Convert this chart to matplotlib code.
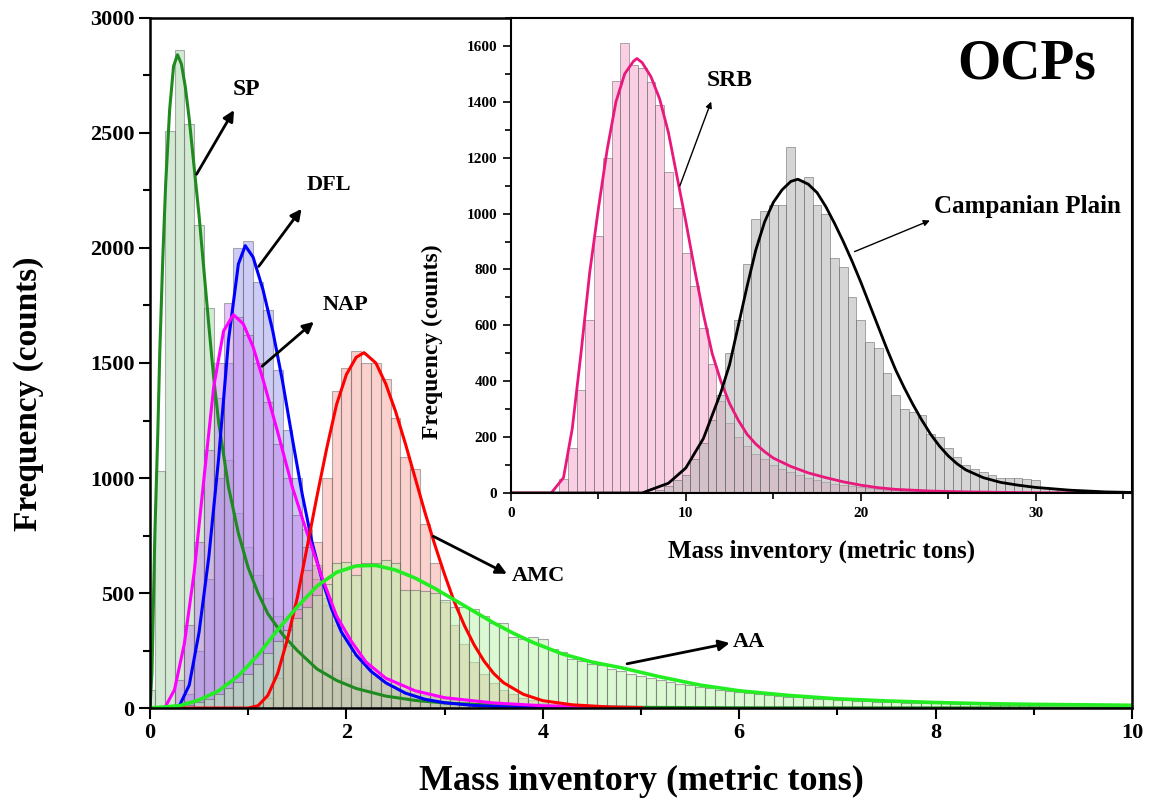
import numpy as np
import matplotlib.pyplot as plt
from matplotlib.ticker import MultipleLocator

plt.rcParams['font.family'] = ['Liberation Serif', 'DejaVu Serif']
plt.rcParams['font.weight'] = 'bold'
plt.rcParams['axes.labelweight'] = 'bold'

# ---- main panel: histograms (bin width 0.1, first bin centre given) ----
main_bin = 0.1
sp_first = 0.0
sp_counts = [80, 1030, 2510, 2860, 2540, 2100, 1740, 1350, 1080, 850, 700, 580, 480, 400,
             340, 290, 250, 210, 175, 150, 130, 110, 95, 80, 68, 58, 50, 43, 37, 32, 27,
             23, 20, 17, 15, 13, 11, 9, 8, 7, 6]
dfl_first = 0.3
dfl_counts = [10, 60, 250, 560, 1000, 1500, 2000, 2030, 1850, 1730, 1470, 1210, 1000, 780,
              620, 480, 380, 300, 230, 175, 135, 100, 78, 60, 46, 35, 27, 21, 16, 12, 9, 7,
              5, 4, 3]
nap_first = 0.2
nap_counts = [10, 120, 360, 720, 1120, 1500, 1760, 1700, 1620, 1500, 1330, 1150, 1000, 840,
              700, 560, 450, 360, 290, 230, 185, 150, 120, 98, 80, 66, 55, 46, 39, 33, 28,
              24, 20, 17, 15, 13, 11, 9, 8, 7, 6, 5, 4, 3, 3, 2]
amc_first = 1.1
amc_counts = [10, 45, 130, 270, 430, 600, 720, 1000, 1380, 1480, 1550, 1500, 1500, 1430, 1260,
              1090, 1040, 800, 630, 460, 360, 280, 200, 150, 110, 80, 60, 45, 33, 24, 18,
              13, 10, 7, 5, 4, 3]
aa_first = 0.3
aa_counts = [8, 15, 25, 40, 60, 85, 115, 150, 190, 240, 290, 340, 390, 440, 490, 540, 630,
             635, 580, 630, 630, 645, 630, 515, 515, 510, 500, 470, 440, 440, 430, 400, 370,
             370, 310, 300, 310, 300, 255, 245, 215, 205, 190, 185, 170, 160, 150, 140, 130,
             122, 115, 105, 98, 92, 85, 80, 75, 70, 65, 60, 57, 53, 50, 47, 44, 41, 38, 36,
             34, 32, 30, 28, 27, 25, 24, 23, 22, 21, 20, 19, 18, 17, 16, 15, 14, 14, 13, 12]

# fitted curves
sp_fit_x = [0, 0.02, 0.05, 0.08, 0.1, 0.13, 0.16, 0.2, 0.24, 0.28, 0.32, 0.36, 0.4, 0.45, 0.5,
            0.55, 0.6, 0.65, 0.7, 0.8, 0.9, 1.0, 1.1, 1.2, 1.35, 1.5, 1.7, 1.9, 2.1, 2.4, 2.7,
            3.0, 3.5, 4.0, 5.0, 6.0, 10.0]
sp_fit_y = [0, 150, 760, 1200, 1550, 1950, 2280, 2600, 2790, 2840, 2800, 2700, 2560, 2350,
            2140, 1900, 1660, 1430, 1240, 960, 760, 610, 500, 410, 320, 250, 170, 120, 85, 52,
            33, 22, 12, 7, 3, 1, 0]
dfl_fit_x = [0, 0.2, 0.3, 0.4, 0.5, 0.6, 0.7, 0.8, 0.9, 0.97, 1.05, 1.15, 1.25, 1.35, 1.45,
             1.55, 1.65, 1.75, 1.85, 1.95, 2.1, 2.25, 2.4, 2.6, 2.8, 3.0, 3.3, 3.6, 4.0, 5.0]
dfl_fit_y = [0, 0, 10, 100, 330, 660, 1090, 1600, 1930, 2010, 1960, 1820, 1640, 1420, 1170,
             930, 720, 560, 430, 330, 230, 160, 110, 65, 38, 23, 11, 5, 2, 0]
nap_fit_x = [0, 0.15, 0.25, 0.35, 0.45, 0.55, 0.65, 0.75, 0.85, 0.95, 1.05, 1.15, 1.3, 1.45,
             1.6, 1.75, 1.9, 2.05, 2.2, 2.4, 2.7, 3.0, 3.5, 4.0, 4.5, 5.0]
nap_fit_y = [0, 0, 80, 280, 590, 1000, 1400, 1640, 1710, 1670, 1570, 1430, 1200, 960, 760,
             570, 400, 290, 200, 130, 75, 45, 22, 10, 4, 2]
amc_fit_x = [0, 1.0, 1.1, 1.2, 1.3, 1.4, 1.5, 1.6, 1.7, 1.8, 1.9, 2.0, 2.1, 2.18, 2.3, 2.4,
             2.5, 2.6, 2.7, 2.8, 2.9, 3.0, 3.1, 3.2, 3.3, 3.4, 3.5, 3.6, 3.8, 4.0, 4.3, 4.7,
             5.0]
amc_fit_y = [0, 0, 10, 55, 150, 300, 480, 700, 920, 1130, 1320, 1450, 1525, 1545, 1500, 1410,
             1290, 1150, 1000, 850, 710, 580, 460, 360, 275, 205, 150, 110, 60, 32, 14, 4, 2]
aa_fit_x = [0, 0.3, 0.5, 0.7, 0.9, 1.1, 1.3, 1.5, 1.7, 1.9, 2.1, 2.3, 2.5, 2.7, 2.9, 3.1,
            3.3, 3.5, 3.7, 3.9, 4.2, 4.5, 4.8, 5.2, 5.6, 6.0, 6.5, 7.0, 7.5, 8.0, 8.5, 9.0,
            9.5, 10.0]
aa_fit_y = [0, 10, 35, 75, 140, 230, 340, 440, 530, 590, 618, 620, 600, 565, 520, 470, 420,
            370, 325, 285, 235, 200, 175, 135, 100, 75, 55, 40, 31, 24, 19, 16, 14, 12]

# ---- inset: histograms (bin width 0.5) ----
inset_bin = 0.5
srb_first = 2.5
srb_counts = [5, 50, 160, 370, 620, 920, 1200, 1475, 1610, 1530, 1520, 1470, 1390, 1150, 1020,
              860, 740, 590, 460, 330, 250, 200, 170, 140, 120, 100, 85, 75, 65, 55, 45, 40,
              33, 28, 24, 20, 17, 14, 12, 10, 8, 7, 6, 5, 4, 3]
cp_first = 8.0
cp_counts = [5, 10, 25, 45, 65, 120, 180, 260, 350, 500, 620, 820, 980, 1010, 1030, 1030, 1240,
             1120, 1130, 1030, 1000, 840, 810, 700, 620, 540, 520, 430, 350, 300, 290, 280,
             210, 200, 160, 130, 100, 85, 75, 65, 55, 55, 55, 50, 45, 20, 15, 10, 8, 6, 5,
             4, 3, 2, 2]
srb_fit_x = [0, 2.3, 3.0, 3.5, 4.0, 4.5, 5.0, 5.5, 6.0, 6.5, 7.0, 7.2, 7.5, 8.0, 8.5, 9.0,
             9.5, 10.0, 10.5, 11.0, 11.5, 12.0, 12.5, 13.0, 13.5, 14.0, 14.5, 15.0, 16.0,
             17.0, 18.0, 19.0, 20.0, 21.0, 22.0, 24.0, 26.0, 30.0, 35.5]
srb_fit_y = [0, 0, 55, 230, 500, 790, 1020, 1230, 1400, 1500, 1545, 1555, 1540, 1490, 1410,
             1290, 1130, 970, 800, 640, 500, 400, 320, 260, 210, 175, 148, 125, 95, 72, 55,
             40, 28, 19, 13, 7, 4, 1, 0]
cp_fit_x = [0, 7.5, 8.0, 9.0, 10.0, 11.0, 12.0, 12.5, 13.0, 13.5, 14.0, 14.5, 15.0, 15.5,
            16.0, 16.4, 17.0, 17.5, 18.0, 18.5, 19.0, 19.5, 20.0, 20.5, 21.0, 21.5, 22.0,
            22.5, 23.0, 23.5, 24.0, 24.5, 25.0, 25.5, 26.0, 27.0, 28.0, 29.0, 30.0, 31.0,
            32.0, 33.0, 34.0, 35.5]
cp_fit_y = [0, 0, 12, 35, 90, 195, 360, 460, 600, 740, 870, 970, 1040, 1085, 1115, 1123,
            1105, 1075, 1025, 965, 900, 830, 755, 675, 595, 515, 440, 375, 315, 260, 210, 168,
            133, 105, 83, 55, 38, 28, 20, 15, 10, 7, 4, 2]


def centres(first, counts, width):
    return first + width * np.arange(len(counts))


fig = plt.figure(figsize=(11.51, 8.09), dpi=100)
ax = fig.add_axes([0.1303, 0.1248, 0.8533, 0.853])

# histograms of the main panel
main_sets = [
    (sp_first, sp_counts, '#9fd09f', 0.45),
    (dfl_first, dfl_counts, '#8f8fef', 0.45),
    (nap_first, nap_counts, '#c77dee', 0.45),
    (amc_first, amc_counts, '#f59a8f', 0.45),
    (aa_first, aa_counts, '#b8f5a8', 0.5),
]
for first, counts, col, a in main_sets:
    ax.bar(centres(first, counts, main_bin), counts, width=main_bin, color=col, alpha=a,
           edgecolor='#555555', linewidth=0.8)

# fitted lines
ax.plot(sp_fit_x, sp_fit_y, color='#1f8a1f', lw=2.2)
ax.plot(dfl_fit_x, dfl_fit_y, color='#0000ff', lw=2.2)
ax.plot(nap_fit_x, nap_fit_y, color='#ff00ff', lw=2.2)
ax.plot(amc_fit_x, amc_fit_y, color='#ff0000', lw=2.2)
ax.plot(aa_fit_x, aa_fit_y, color='#22ee22', lw=2.6)

ax.set_xlim(0, 10)
ax.set_ylim(0, 3000)
ax.xaxis.set_major_locator(MultipleLocator(2))
ax.xaxis.set_minor_locator(MultipleLocator(1))
ax.yaxis.set_major_locator(MultipleLocator(500))
ax.yaxis.set_minor_locator(MultipleLocator(250))
ax.tick_params(which='major', direction='out', length=8, width=1.5, labelsize=16, pad=3)
ax.tick_params(which='minor', direction='out', length=5, width=1.5)
for s in ax.spines.values():
    s.set_linewidth(1.8)
ax.set_xlabel('Mass inventory (metric tons)', fontsize=26)
ax.set_ylabel('Frequency (counts)', fontsize=24)
ax.xaxis.set_label_coords(0.5, -0.083)
ax.yaxis.set_label_coords(-0.108, 0.456)

# arrows and labels
arrow_kw = dict(arrowstyle='-|>', color='black', lw=2, mutation_scale=16)
ax.annotate('', xy=(0.87, 2610), xytext=(0.46, 2310), arrowprops=arrow_kw)
ax.text(0.98, 2690, 'SP', fontsize=17, ha='center', va='center')
ax.annotate('', xy=(1.56, 2180), xytext=(1.09, 1910), arrowprops=arrow_kw)
ax.text(1.82, 2275, 'DFL', fontsize=16, ha='center', va='center')
ax.annotate('', xy=(1.69, 1687), xytext=(1.12, 1478), arrowprops=arrow_kw)
ax.text(1.99, 1750, 'NAP', fontsize=16, ha='center', va='center')
ax.annotate('', xy=(3.66, 578), xytext=(2.86, 752), arrowprops=arrow_kw)
ax.text(3.68, 572, 'AMC', fontsize=16, ha='left', va='center')
ax.annotate('', xy=(5.93, 285), xytext=(4.83, 190), arrowprops=arrow_kw)
ax.text(5.93, 287, 'AA', fontsize=16, ha='left', va='center')

# ---- inset ----
ins = fig.add_axes([0.444, 0.3906, 0.5393, 0.5872])
ins.bar(centres(srb_first, srb_counts, inset_bin), srb_counts, width=inset_bin,
        color='#f7a8cc', alpha=0.55, edgecolor='#666666', linewidth=0.7)
ins.bar(centres(cp_first, cp_counts, inset_bin), cp_counts, width=inset_bin,
        color='#b4b4b4', alpha=0.55, edgecolor='#666666', linewidth=0.7)
ins.plot(srb_fit_x, srb_fit_y, color='#e8187c', lw=2)
ins.plot(cp_fit_x, cp_fit_y, color='black', lw=2)

ins.set_xlim(0, 35.5)
ins.set_ylim(0, 1700)
ins.xaxis.set_major_locator(MultipleLocator(10))
ins.xaxis.set_minor_locator(MultipleLocator(5))
ins.yaxis.set_major_locator(MultipleLocator(200))
ins.yaxis.set_minor_locator(MultipleLocator(100))
ins.tick_params(which='major', direction='out', length=6, width=1.2, labelsize=11, pad=4)
ins.tick_params(which='minor', direction='out', length=4, width=1.2)
for s in ins.spines.values():
    s.set_linewidth(1.5)
ins.set_xlabel('Mass inventory (metric tons)', fontsize=18)
ins.set_ylabel('Frequency (counts)', fontsize=17)
ins.xaxis.set_label_coords(0.5, -0.099)
ins.yaxis.set_label_coords(-0.11, 0.318)

thin_kw = dict(arrowstyle='-|>', color='black', lw=1, mutation_scale=9)
ins.annotate('', xy=(11.5, 1410), xytext=(9.6, 1090), arrowprops=thin_kw)
ins.text(12.5, 1475, 'SRB', fontsize=17, ha='center', va='center')
ins.annotate('', xy=(24.1, 979), xytext=(19.5, 860), arrowprops=thin_kw)
ins.text(24.2, 1027, 'Campanian Plain', fontsize=18, ha='left', va='center')
ins.text(29.5, 1535, 'OCPs', fontsize=40, ha='center', va='center')

fig.savefig('out.png', dpi=100)
